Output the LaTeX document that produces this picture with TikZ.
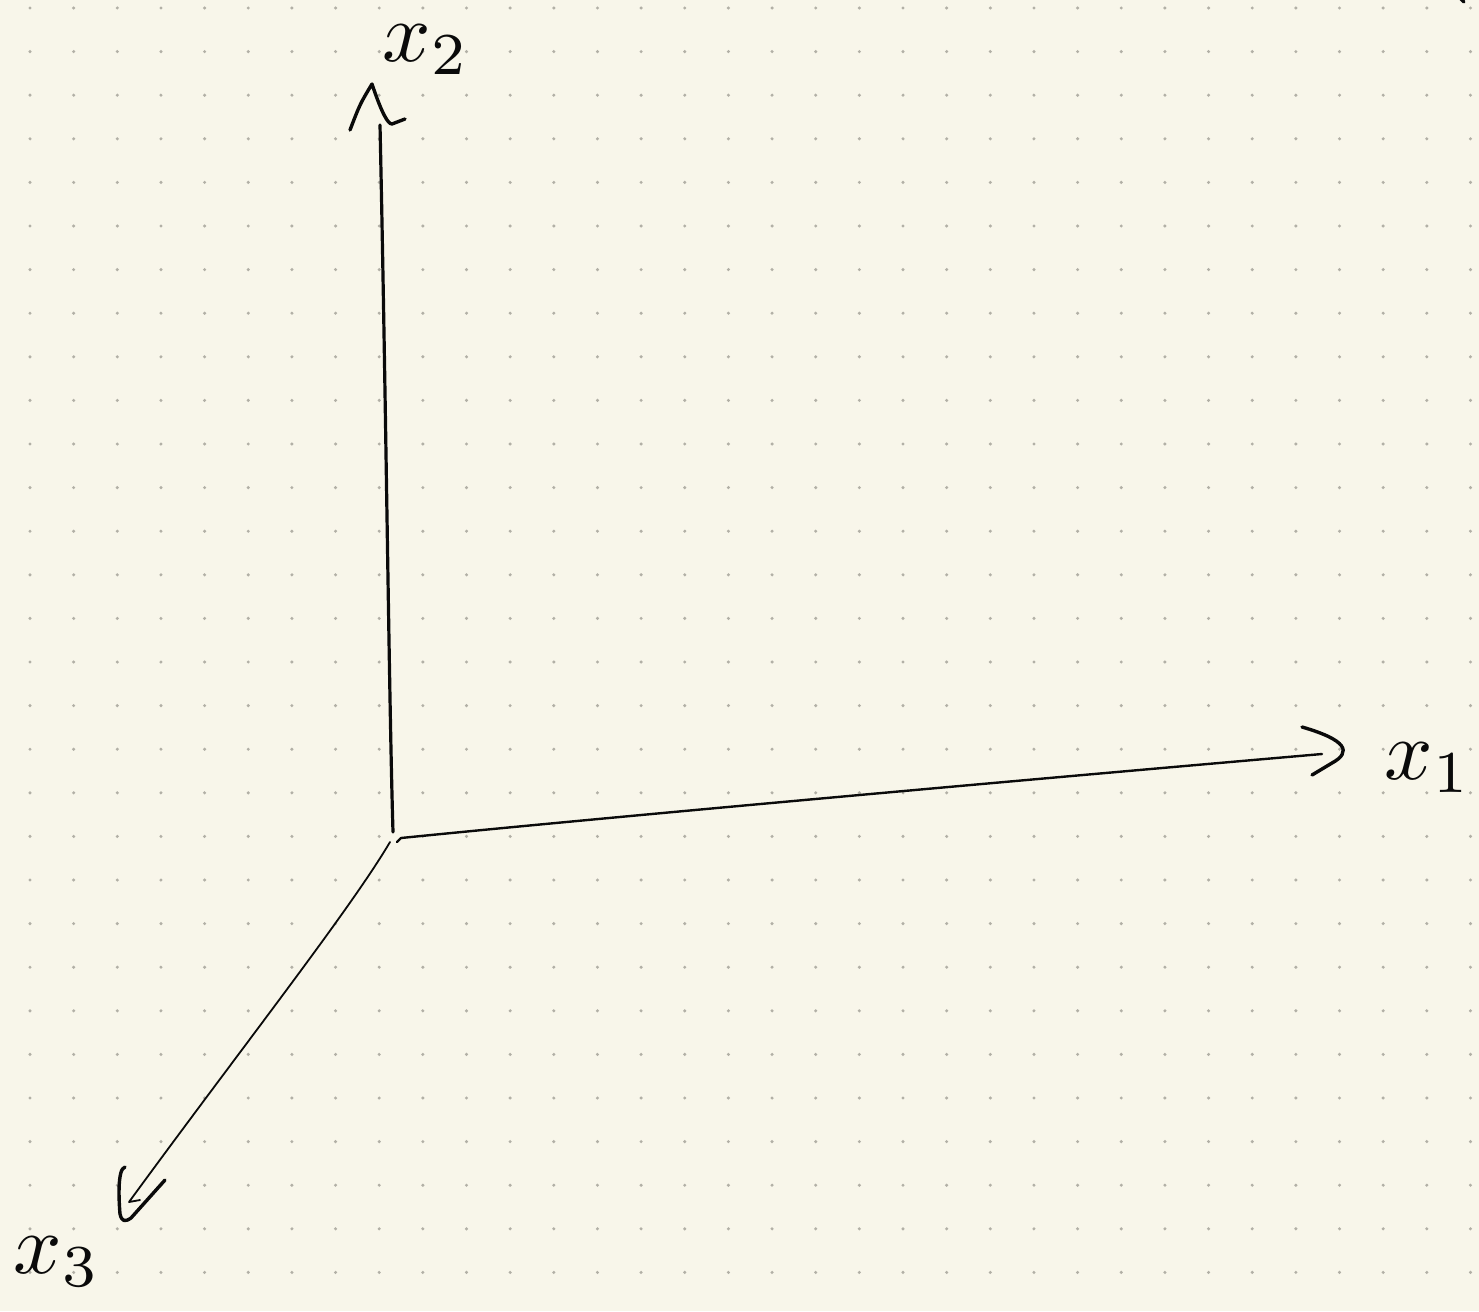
\documentclass[tikz,border=0pt]{standalone}
\usetikzlibrary{calc}
\definecolor{paper}{HTML}{F8F6EA}
\definecolor{dotc}{HTML}{B2B0A6}
\definecolor{ink}{HTML}{0A0A0A}
\tikzset{
  axisthick/.style={draw=ink, line width=3.2pt, line cap=round, line join=round},
  axismid/.style={draw=ink, line width=2.4pt, line cap=round, line join=round},
  axisthin/.style={draw=ink, line width=1.8pt, line cap=round, line join=round},
  headstroke/.style={draw=ink, line width=3.4pt, line cap=round, line join=round},
  lab/.style={text=ink, inner sep=0pt, scale=8.5}
}
\begin{document}
\begin{tikzpicture}[x=1pt,y=-1pt]
\fill[paper] (0,0) rectangle (1479,1311);
\useasboundingbox (0,0) rectangle (1479,1311);
\foreach \i in {0,...,33}{
  \foreach \j in {0,...,29}{
    \fill[dotc] (30+\i*43.65, 8+\j*43.6) circle (1.7pt);
  }
}
% named points
\coordinate (O) at (393,832);
\coordinate (Ztop) at (380,125);
\coordinate (Zhead) at (372,84);
\coordinate (Xstart) at (397,842);
\coordinate (Xend) at (1322,754);
\coordinate (Ystart) at (390,842);
\coordinate (Yend) at (129,1202);
% vertical axis (x2)
\draw[axisthick] (Ztop) .. controls (386,400) and (389,700) .. (O);
% x1 axis
\draw[axismid] (Xstart) -- ($(Xstart)+(4,-4)$) .. controls (600,818) and (1000,782) .. (Xend);
% x3 axis
\draw[axisthin] (Ystart) .. controls (350,910) and (240,1050) .. (Yend) -- ($(Yend)+(11,-2)$);
% arrowheads
\draw[headstroke] ($(Zhead)+(-22,46)$) .. controls ($(Zhead)+(-12,20)$) .. (Zhead)
  .. controls ($(Zhead)+(10,30)$) and ($(Zhead)+(16,40)$) .. ($(Zhead)+(20,40)$) -- ($(Zhead)+(33,35)$);
\draw[headstroke] ($(Xend)+(-20,-27)$) .. controls ($(Xend)+(25,-14)$) and ($(Xend)+(30,-2)$) .. ($(Xend)+(10,9)$) -- ($(Xend)+(-10,21)$);
\draw[headstroke] ($(Yend)+(-4,-35)$) .. controls ($(Yend)+(-12,-33)$) and ($(Yend)+(-10,0)$) .. ($(Yend)+(-9,12)$)
  .. controls ($(Yend)+(-7,20)$) and ($(Yend)+(-4,20)$) .. ($(Yend)+(2,16)$) -- ($(Yend)+(36,-22)$);
% labels
\node[lab] (l2) at (426,50) {$x_2$};
\node[lab] (l1) at (1428,768) {$x_1$};
\node[lab] (l3) at (57,1262) {$x_3$};
% stray mark at top edge
\draw[headstroke] (1460,-2) -- (1464,2);
\end{tikzpicture}
\end{document}
